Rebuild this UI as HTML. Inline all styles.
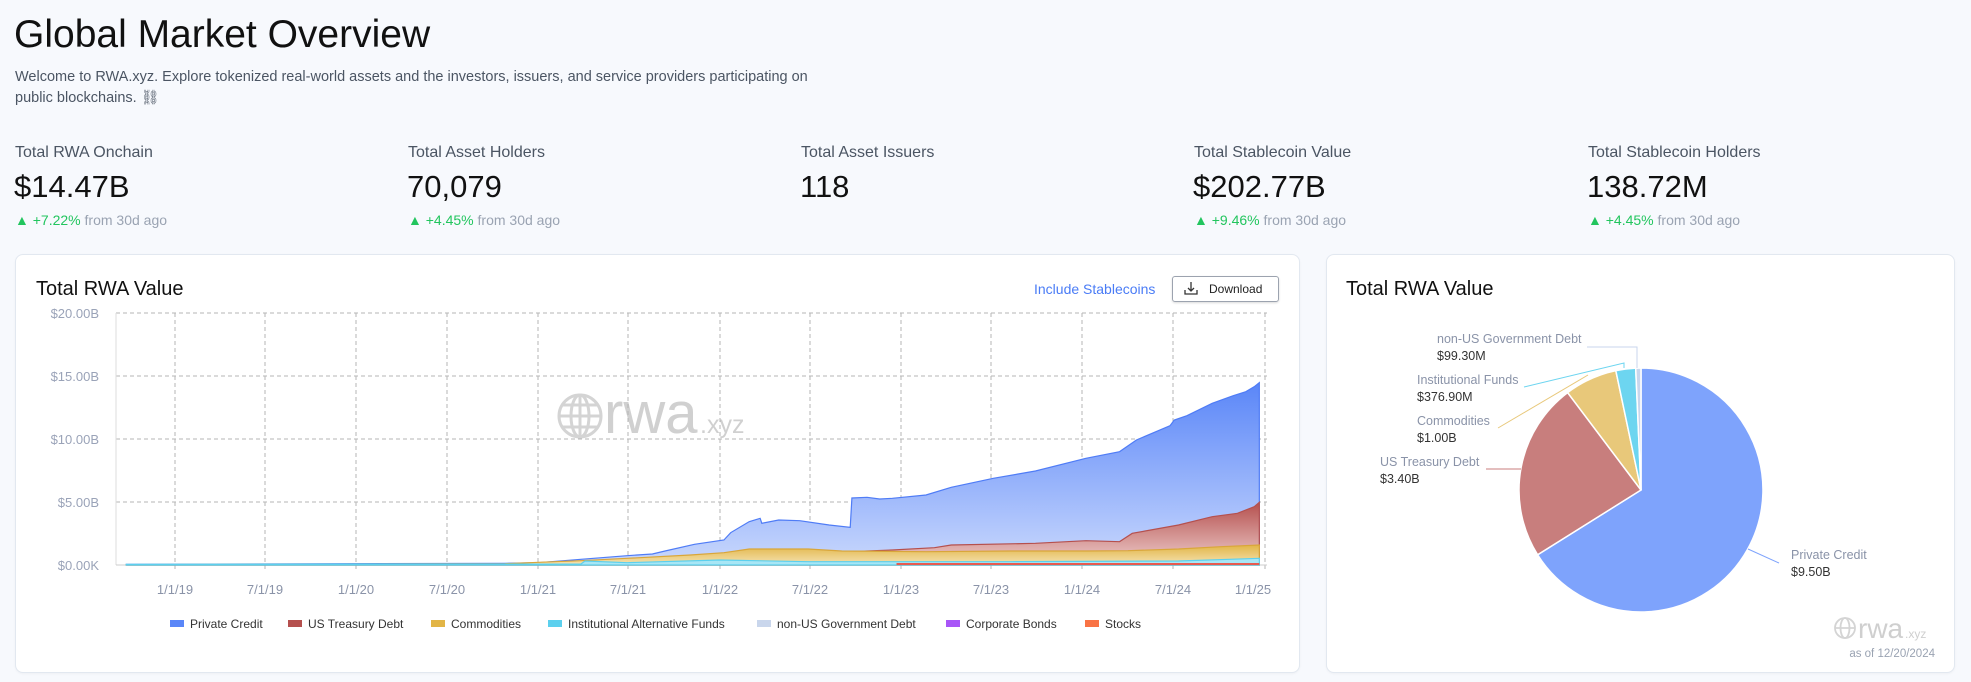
<!DOCTYPE html>
<html><head><meta charset="utf-8"><style>
*{margin:0;padding:0;box-sizing:border-box}
body{width:1971px;height:682px;background:#f7f9fd;font-family:"Liberation Sans",sans-serif;position:relative;overflow:hidden;color:#111}
.a{position:absolute;white-space:nowrap}
.lab{font-size:16px;color:#4b5563}
.val{font-size:31px;color:#111}
.chg{font-size:14px;color:#9aa3b2}
.chg b{font-weight:normal;color:#22c55e}
.card{position:absolute;background:#fff;border:1px solid #e2e8f0;border-radius:8px;box-shadow:0 1px 2px rgba(0,0,0,.04)}
</style></head><body>
<div class="a" style="left:14px;top:13px;font-size:39px;">Global Market Overview</div>
<div class="a" style="left:15px;top:67px;font-size:14.5px;color:#4b5563;line-height:21px;">Welcome to RWA.xyz. Explore tokenized real-world assets and the investors, issuers, and service providers participating on<br>public blockchains. ⛓</div>

<div class="a lab" style="left:15px;top:144px">Total RWA Onchain</div>
<div class="a val" style="left:14px;top:169px">$14.47B</div>
<div class="a chg" style="left:15px;top:212px"><b>▲ +7.22%</b> from 30d ago</div>
<div class="a lab" style="left:408px;top:144px">Total Asset Holders</div>
<div class="a val" style="left:407px;top:169px">70,079</div>
<div class="a chg" style="left:408px;top:212px"><b>▲ +4.45%</b> from 30d ago</div>
<div class="a lab" style="left:801px;top:144px">Total Asset Issuers</div>
<div class="a val" style="left:800px;top:169px">118</div>
<div class="a lab" style="left:1194px;top:144px">Total Stablecoin Value</div>
<div class="a val" style="left:1193px;top:169px">$202.77B</div>
<div class="a chg" style="left:1194px;top:212px"><b>▲ +9.46%</b> from 30d ago</div>
<div class="a lab" style="left:1588px;top:144px">Total Stablecoin Holders</div>
<div class="a val" style="left:1587px;top:169px">138.72M</div>
<div class="a chg" style="left:1588px;top:212px"><b>▲ +4.45%</b> from 30d ago</div>

<div class="card" style="left:15px;top:254px;width:1285px;height:419px"></div>
<div class="card" style="left:1326px;top:254px;width:629px;height:419px"></div>

<div class="a" style="left:36px;top:278px;font-size:20px">Total RWA Value</div>
<div class="a" style="left:1034px;top:281px;font-size:14px;color:#4a7cf6">Include Stablecoins</div>
<div class="a" style="left:1172px;top:276px;width:107px;height:26px;border:1px solid #9ca3af;border-radius:3px;font-size:12px;line-height:24px;padding-left:36px;color:#222;box-shadow:0 1px 2px rgba(0,0,0,.15)">Download</div>
<svg class="a" style="left:1184px;top:281px" width="14" height="15" viewBox="0 0 14 15"><path d="M7 1v9M4 7l3 3 3-3M1 9v4h12V9" fill="none" stroke="#333" stroke-width="1.3"/></svg>

<div class="a" style="left:1346px;top:278px;font-size:20px">Total RWA Value</div>

<svg class="a" style="left:0;top:0" width="1971" height="682">
<g stroke="#d4d4d4" stroke-width="3" fill="none">
<circle cx="580" cy="416" r="21"/><ellipse cx="580" cy="416" rx="9" ry="21"/>
<line x1="559" y1="416" x2="601" y2="416"/><line x1="580" y1="395" x2="580" y2="437"/>
<line x1="563" y1="405" x2="597" y2="405"/><line x1="563" y1="427" x2="597" y2="427"/>
</g>
<text x="604" y="433" font-size="58" fill="#d0d0d0" font-family="Liberation Sans">rwa</text>
<text x="700" y="433" font-size="25" fill="#d0d0d0" font-family="Liberation Sans">.xyz</text>

<g stroke="#b5b5b5" stroke-dasharray="4,3" stroke-width="1">
<line x1="116" y1="313" x2="1267" y2="313"/><line x1="116" y1="376" x2="1267" y2="376"/>
<line x1="116" y1="439" x2="1267" y2="439"/><line x1="116" y1="502" x2="1267" y2="502"/>
<line x1="175" y1="313" x2="175" y2="572"/><line x1="265" y1="313" x2="265" y2="572"/>
<line x1="356" y1="313" x2="356" y2="572"/><line x1="447" y1="313" x2="447" y2="572"/>
<line x1="538" y1="313" x2="538" y2="572"/><line x1="628" y1="313" x2="628" y2="572"/>
<line x1="720" y1="313" x2="720" y2="572"/><line x1="810" y1="313" x2="810" y2="572"/>
<line x1="901" y1="313" x2="901" y2="572"/><line x1="991" y1="313" x2="991" y2="572"/>
<line x1="1082" y1="313" x2="1082" y2="572"/><line x1="1173" y1="313" x2="1173" y2="572"/>
<line x1="1265" y1="313" x2="1265" y2="572"/>
</g>
<line x1="116" y1="313" x2="116" y2="565" stroke="#ddd"/>
<line x1="116" y1="565" x2="1267" y2="565" stroke="#ccc"/>
<defs>
<linearGradient id="gb" x1="0" y1="0" x2="0" y2="1"><stop offset="0" stop-color="#5a86f8"/><stop offset="1" stop-color="#c9d8fd"/></linearGradient>
<linearGradient id="gr" x1="0" y1="0" x2="0" y2="1"><stop offset="0" stop-color="#b5504e"/><stop offset="1" stop-color="#efd0cf"/></linearGradient>
<linearGradient id="gy" x1="0" y1="0" x2="0" y2="1"><stop offset="0" stop-color="#e2b546"/><stop offset="1" stop-color="#f5e3b3"/></linearGradient>
</defs>
<g transform="translate(0,250) scale(0.8418 0.33333)">
<polygon fill="url(#gb)" stroke="#4f7cf6" stroke-width="1.2" vector-effect="non-scaling-stroke" points="150,945 150,943 600,940 640,938 690,928 745,917 775,912 790,903 825,883 860,870 868,848 890,815 903,805 905,820 925,810 950,812 985,825 1010,832 1012,744 1030,742 1045,747 1060,745 1100,735 1130,712 1180,685 1230,663 1290,625 1330,605 1350,570 1390,527 1395,510 1410,497 1440,460 1465,437 1480,425 1490,410 1496,398 1496,945"/>
<polygon fill="url(#gr)" stroke="#b5504e" stroke-width="1.2" vector-effect="non-scaling-stroke" points="150,945 150,945 700,945 1000,906 1060,900 1110,893 1130,885 1230,880 1290,872 1330,875 1345,850 1400,825 1440,800 1470,790 1490,770 1496,757 1496,945"/>
<polygon fill="url(#gy)" stroke="#d9a63a" stroke-width="1.2" vector-effect="non-scaling-stroke" points="150,945 150,944 600,941 640,937 690,932 745,925 820,915 860,908 890,897 960,897 1000,903 1100,905 1200,903 1290,903 1340,902 1400,897 1450,890 1496,885 1496,945"/>
<polygon fill="#a8e6f5" stroke="#5cd0ee" stroke-width="1.2" vector-effect="non-scaling-stroke" points="150,945 150,943 690,942 695,933 745,938 855,930 960,935 1200,935 1400,933 1496,925 1496,945"/>
<line x1="1065" y1="942" x2="1496" y2="942" stroke="#e85a4f" stroke-width="2" vector-effect="non-scaling-stroke"/>
</g>
<g font-size="13" fill="#9aa3b8" text-anchor="end" font-family="Liberation Sans">
<text x="99" y="318">$20.00B</text><text x="99" y="381">$15.00B</text><text x="99" y="444">$10.00B</text><text x="99" y="507">$5.00B</text><text x="99" y="570">$0.00K</text>
</g>
<g font-size="13" fill="#8a93a8" text-anchor="middle" font-family="Liberation Sans">
<text x="175" y="594">1/1/19</text><text x="265" y="594">7/1/19</text><text x="356" y="594">1/1/20</text><text x="447" y="594">7/1/20</text><text x="538" y="594">1/1/21</text><text x="628" y="594">7/1/21</text><text x="720" y="594">1/1/22</text><text x="810" y="594">7/1/22</text><text x="901" y="594">1/1/23</text><text x="991" y="594">7/1/23</text><text x="1082" y="594">1/1/24</text><text x="1173" y="594">7/1/24</text><text x="1253" y="594">1/1/25</text>
</g>
<g font-size="12" fill="#333" font-family="Liberation Sans">
<rect x="170" y="620" width="14" height="7" fill="#5a86f8"/><text x="190" y="628">Private Credit</text>
<rect x="288" y="620" width="14" height="7" fill="#b5504e"/><text x="308" y="628">US Treasury Debt</text>
<rect x="431" y="620" width="14" height="7" fill="#e2b546"/><text x="451" y="628">Commodities</text>
<rect x="548" y="620" width="14" height="7" fill="#5cd0ee"/><text x="568" y="628">Institutional Alternative Funds</text>
<rect x="757" y="620" width="14" height="7" fill="#c9d6ec"/><text x="777" y="628">non-US Government Debt</text>
<rect x="946" y="620" width="14" height="7" fill="#a855f7"/><text x="966" y="628">Corporate Bonds</text>
<rect x="1085" y="620" width="14" height="7" fill="#f97345"/><text x="1105" y="628">Stocks</text>
</g>

<g stroke="#fff" stroke-width="1.5">
<path d="M1641,490 L1641,368 A122,122 0 1 1 1537.6,554.8 Z" fill="#7ea3fc"/>
<path d="M1641,490 L1537.6,554.8 A122,122 0 0 1 1567.6,392.6 Z" fill="#c87e7d"/>
<path d="M1641,490 L1567.6,392.6 A122,122 0 0 1 1615.8,370.6 Z" fill="#e8c87a"/>
<path d="M1641,490 L1615.8,370.6 A122,122 0 0 1 1635.7,368.1 Z" fill="#6dd5f0"/>
<path d="M1641,490 L1635.7,368.1 A122,122 0 0 1 1641,368 Z" fill="#c9d6ec"/>
</g>
<g fill="none" stroke-width="1">
<polyline points="1587,347 1637,347 1637,368" stroke="#c9d6ec"/>
<polyline points="1524,387 1624,363 1624,368" stroke="#6dd5f0"/>
<polyline points="1498,428 1588,375" stroke="#e8c87a"/>
<polyline points="1486,469 1521,469" stroke="#c87e7d"/>
<polyline points="1748,549 1779,563" stroke="#7ea3fc"/>
</g>
<g font-size="12.5" font-family="Liberation Sans">
<text x="1437" y="343" fill="#8a93a8">non-US Government Debt</text><text x="1437" y="360" fill="#333">$99.30M</text>
<text x="1417" y="384" fill="#8a93a8">Institutional Funds</text><text x="1417" y="401" fill="#333">$376.90M</text>
<text x="1417" y="425" fill="#8a93a8">Commodities</text><text x="1417" y="442" fill="#333">$1.00B</text>
<text x="1380" y="466" fill="#8a93a8">US Treasury Debt</text><text x="1380" y="483" fill="#333">$3.40B</text>
<text x="1791" y="559" fill="#8a93a8">Private Credit</text><text x="1791" y="576" fill="#333">$9.50B</text>
</g>
<g stroke="#d4d4d4" stroke-width="1.8" fill="none">
<circle cx="1845" cy="628" r="10"/><ellipse cx="1845" cy="628" rx="4.5" ry="10"/><line x1="1835" y1="628" x2="1855" y2="628"/>
</g>
<text x="1858" y="638" font-size="28" fill="#cfcfcf" font-family="Liberation Sans">rwa</text>
<text x="1905" y="638" font-size="12" fill="#cfcfcf" font-family="Liberation Sans">.xyz</text>
<text x="1935" y="657" font-size="11.5" fill="#9aa3b2" text-anchor="end" font-family="Liberation Sans">as of 12/20/2024</text>
</svg>
</body></html>
